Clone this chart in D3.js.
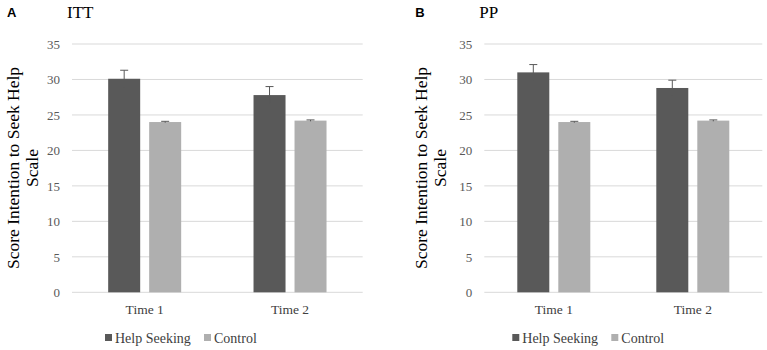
<!DOCTYPE html>
<html>
<head>
<meta charset="utf-8">
<script src="https://cdn.jsdelivr.net/npm/d3@7"></script>
<style>
  body { margin: 0; background: #fff; }
  svg text { font-family: 'Liberation Serif', 'Times New Roman', serif; }
</style>
</head>
<body>
<div id="chart"></div>
<script>
// data
const times = ["Time 1", "Time 2"]
const groups = ["Help Seeking", "Control"]
const yTicks = [0, 5, 10, 15, 20, 25, 30, 35]

const ittHelp = [30.1, 27.8]
const ittControl = [24.0, 24.2]
const ittHelpErr = [1.2, 1.2]
const ittControlErr = [0.1, 0.1]

const ppHelp = [31.0, 28.8]
const ppControl = [24.0, 24.2]
const ppHelpErr = [1.1, 1.1]
const ppControlErr = [0.1, 0.1]

const colors = { "Help Seeking": "#595959", "Control": "#afafaf" }
const serif = "'Liberation Serif', 'Times New Roman', serif"

const svg = d3.select("#chart").append("svg")
  .attr("width", 767)
  .attr("height", 350)

function drawPanel(opts){
  const g = svg.append("g").attr("transform", "translate(" + [opts.left, 0] + ")")
  const plotW = opts.width
  const top = 44, bottom = 292.3

  const y = d3.scaleLinear().domain([0, 35]).range([bottom, top])
  const x0 = d3.scaleBand().domain(times).range([0, plotW]).paddingInner(0).paddingOuter(0)
  // bars ~32px wide with a 9px gap, like excel's gap width
  const barW = 32, gap = 9
  const x1 = d3.scaleOrdinal().domain(groups).range([-(barW + gap / 2), gap / 2])

  // gridlines
  g.append("g").selectAll("line")
    .data(yTicks)
    .enter().append("line")
    .attr("x1", 0).attr("x2", plotW)
    .attr("y1", d => y(d)).attr("y2", d => y(d))
    .attr("stroke", "#d9d9d9").attr("stroke-width", 1)

  // y axis tick labels
  const yAxis = d3.axisLeft(y).tickValues(yTicks).tickSize(0).tickPadding(12)
  const ya = g.append("g").call(yAxis).attr("font-family", null)
  ya.select(".domain").remove()
  ya.selectAll("text")
    .attr("fill", "#595959")
    .style("font-size", "13px")
    .style("font-family", serif)

  // x axis labels
  const xAxis = d3.axisBottom(x0).tickSize(0).tickPadding(12)
  const xa = g.append("g").attr("transform", "translate(0," + bottom + ")").call(xAxis).attr("font-family", null)
  xa.select(".domain").remove()
  xa.selectAll("text")
    .attr("fill", "#404040")
    .style("font-size", "13.5px")
    .style("font-family", serif)

  const rows = []
  times.forEach((t, i) => {
    rows.push({ time: t, group: "Help Seeking", v: opts.help[i], e: opts.helpErr[i] })
    rows.push({ time: t, group: "Control", v: opts.control[i], e: opts.controlErr[i] })
  })

  const cx = t => x0(t) + x0.bandwidth() / 2

  g.append("g").selectAll("rect")
    .data(rows)
    .enter().append("rect")
    .attr("x", d => cx(d.time) + x1(d.group))
    .attr("y", d => y(d.v))
    .attr("width", barW)
    .attr("height", d => y(0) - y(d.v))
    .attr("fill", d => colors[d.group])

  // error bars
  const eb = g.append("g").selectAll("g")
    .data(rows)
    .enter().append("g")
    .attr("transform", d => "translate(" + (cx(d.time) + x1(d.group) + barW / 2) + ",0)")
  eb.append("line")
    .attr("y1", d => y(d.v - d.e)).attr("y2", d => y(d.v + d.e))
    .attr("stroke", "#595959").attr("stroke-width", 1)
  eb.append("line")
    .attr("x1", -4).attr("x2", 4)
    .attr("y1", d => y(d.v + d.e)).attr("y2", d => y(d.v + d.e))
    .attr("stroke", "#595959").attr("stroke-width", 1)

  // y axis title, two lines
  const ytitle = g.append("text")
    .attr("transform", "translate(" + [opts.titleX, 168] + ") rotate(-90)")
    .attr("text-anchor", "middle")
    .attr("fill", "#000")
    .style("font-size", "17.5px")
    .style("font-family", serif)
  ytitle.append("tspan").attr("x", 0).attr("dy", 0).text("Score Intention to Seek Help")
  ytitle.append("tspan").attr("x", 0).attr("dy", 19).text("Scale")

  // panel letter + title
  g.append("text")
    .attr("x", opts.letterX).attr("y", 17)
    .style("font-family", "'Liberation Sans', Arial, sans-serif")
    .style("font-weight", "bold")
    .style("font-size", "13px")
    .text(opts.letter)
  g.append("text")
    .attr("x", opts.nameX).attr("y", 18)
    .style("font-size", "17px")
    .style("font-family", serif)
    .text(opts.name)

  // legend
  const leg = g.append("g").attr("transform", "translate(" + [opts.legendX, 343] + ")")
  const items = leg.selectAll("g")
    .data(groups)
    .enter().append("g")
    .attr("transform", (d, i) => "translate(" + (i * 99) + ",0)")
  items.append("rect")
    .attr("x", 0).attr("y", -9)
    .attr("width", 7).attr("height", 7)
    .attr("fill", d => colors[d])
  items.append("text")
    .attr("x", 10)
    .attr("fill", "#404040")
    .style("font-size", "14px")
    .style("font-family", serif)
    .text(d => d)
}

drawPanel({
  left: 72, width: 290.7,
  help: ittHelp, control: ittControl, helpErr: ittHelpErr, controlErr: ittControlErr,
  titleX: -53, letter: "A", letterX: -65, name: "ITT", nameX: -5, legendX: 33
})

drawPanel({
  left: 484.3, width: 278,
  help: ppHelp, control: ppControl, helpErr: ppHelpErr, controlErr: ppControlErr,
  titleX: -57, letter: "B", letterX: -69, name: "PP", nameX: -5, legendX: 28
})
</script>
</body>
</html>
